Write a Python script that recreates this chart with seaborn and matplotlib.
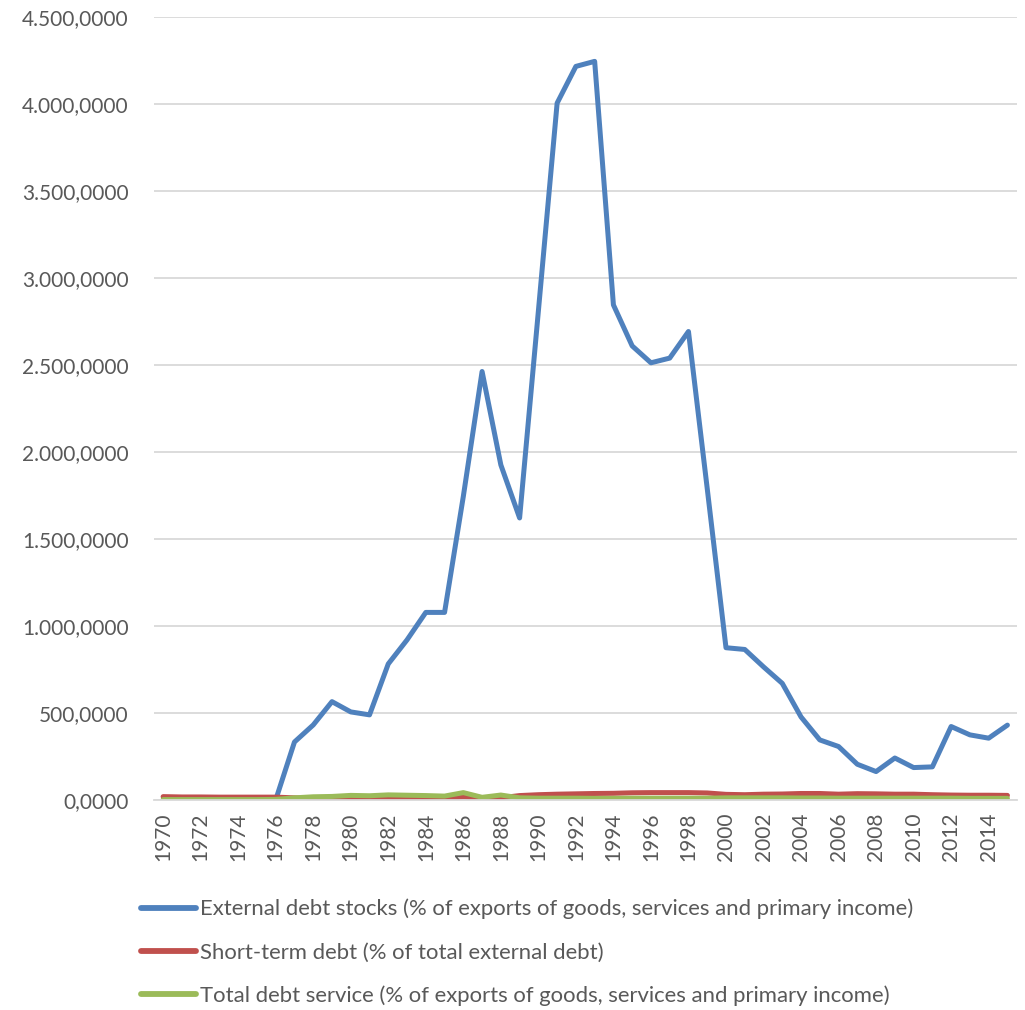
import matplotlib
matplotlib.use("Agg")
import matplotlib.pyplot as plt
import matplotlib.ticker as mticker
from matplotlib.lines import Line2D
import pandas as pd
import seaborn as sns

years = list(range(1970, 2016))

external_debt_stocks = [
    0, 0, 0, 0, 0, 0, 0, 333, 431, 565, 506, 489, 782, 920, 1078, 1078,
    1745, 2463, 1926, 1621, 2810, 4006, 4217, 4246, 2846, 2610, 2513, 2540,
    2693, 1790, 875, 865, 765, 670, 477, 345, 307, 205, 163, 241, 186, 190,
    422, 374, 355, 430,
]
short_term_debt = [
    19, 17, 17, 16, 16, 16, 16, 12, 8, 5, 3, 3, 3, 2, 3, 4,
    18, 5, 12, 25, 30, 33, 35, 37, 38, 41, 42, 42, 42, 40, 32, 30,
    33, 34, 37, 37, 33, 36, 35, 33, 33, 30, 28, 27, 27, 26,
]
total_debt_service = [
    2, 2, 2, 2, 2, 2, 3, 12, 18, 20, 26, 24, 29, 27, 25, 22,
    42, 15, 28, 12, 10, 10, 10, 9, 9, 10, 10, 10, 10, 10, 12, 12,
    12, 12, 11, 11, 10, 10, 10, 10, 10, 10, 10, 9, 9, 9,
]

series_names = [
    "External debt stocks (% of exports of goods, services and primary income)",
    "Short-term debt (% of total external debt)",
    "Total debt service (% of exports of goods, services and primary income)",
]
series_colors = ["#4F81BD", "#C0504D", "#9BBB59"]

frames = []
for name, vals in zip(series_names, [external_debt_stocks, short_term_debt, total_debt_service]):
    frames.append(pd.DataFrame({"year": years, "value": vals, "series": name}))
df = pd.concat(frames, ignore_index=True)

sns.set_theme(style="white")
plt.rcParams["font.family"] = ["Lato", "DejaVu Sans"]

text_color = "#595959"
grid_color = "#D9D9D9"

fig = plt.figure(figsize=(10.25, 10.10), dpi=100)
ax = fig.add_axes([0.150, 0.208, 0.842, 0.775])

sns.lineplot(
    data=df, x="year", y="value", hue="series",
    hue_order=series_names, palette=series_colors,
    linewidth=3.6, ax=ax, legend=False, sort=False,
)
for ln in ax.get_lines():
    ln.set_solid_joinstyle("round")
    ln.set_solid_capstyle("round")

ax.set_xlim(1969.5, 2015.5)
ax.set_ylim(0, 4500)
ax.yaxis.set_major_locator(mticker.MultipleLocator(500))


def euro_fmt(v, _pos):
    s = f"{v:,.4f}"
    return s.replace(",", "X").replace(".", ",").replace("X", ".")


ax.yaxis.set_major_formatter(mticker.FuncFormatter(euro_fmt))
ax.set_xticks(list(range(1970, 2015, 2)))
ax.set_xticklabels([str(y) for y in range(1970, 2015, 2)], rotation=90)

ax.grid(axis="y", color=grid_color, linewidth=1.3)
ax.grid(axis="x", visible=False)
ax.set_axisbelow(True)
for side in ["left", "right", "top"]:
    ax.spines[side].set_visible(False)
ax.spines["bottom"].set_color(grid_color)
ax.spines["bottom"].set_linewidth(1.3)
ax.tick_params(axis="both", length=0, colors=text_color, labelsize=15)
ax.tick_params(axis="y", pad=18)
ax.tick_params(axis="x", pad=9)
ax.set_xlabel("")
ax.set_ylabel("")

handles = [Line2D([0], [0], color=c, linewidth=4.2, solid_capstyle="round") for c in series_colors]
leg = fig.legend(
    handles, series_names, loc="upper left", bbox_to_anchor=(0.129, 0.119),
    frameon=False, fontsize=15.9, handlelength=2.5, handletextpad=0.15,
    labelspacing=1.05, borderaxespad=0,
)
for t in leg.get_texts():
    t.set_color(text_color)

fig.savefig("out.png", dpi=100)
